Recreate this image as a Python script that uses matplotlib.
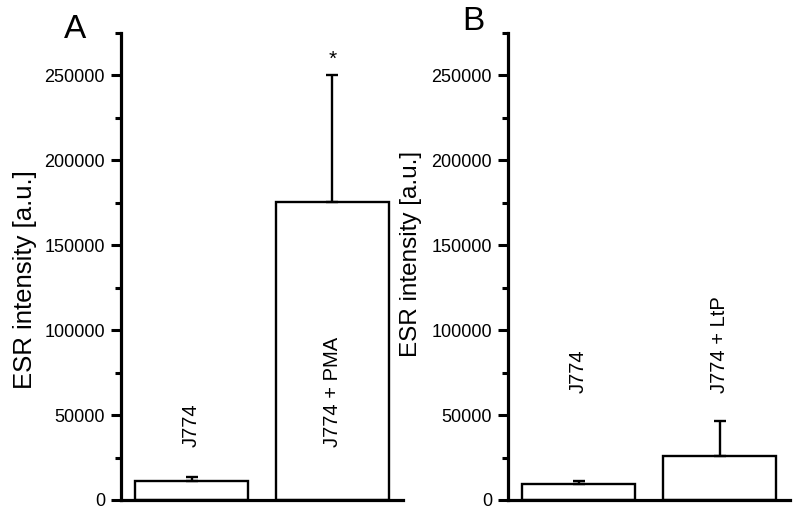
import matplotlib
matplotlib.use("Agg")
import matplotlib.pyplot as plt
from matplotlib.ticker import MultipleLocator

plt.rcParams['font.family'] = ['Liberation Sans', 'DejaVu Sans']

# Data
labels_a = ["J774", "J774 + PMA"]
means_a = [11200, 175700]
errs_a = [2200, 74500]

labels_b = ["J774", "J774 + LtP"]
means_b = [9250, 25900]
errs_b = [1950, 20700]

label_y_a = [31000, 31000]
label_y_b = [63000, 63000]
star_y = 256000

fig = plt.figure(figsize=(8.0, 5.15), dpi=100)
ax_a = fig.add_axes([121/800, 15/515, 282/800, 467/515])
ax_b = fig.add_axes([508/800, 15/515, 282/800, 467/515])


def style(ax):
    ax.set_xlim(0.5, 2.5)
    ax.set_ylim(0, 275000)
    ax.yaxis.set_major_locator(MultipleLocator(50000))
    ax.yaxis.set_minor_locator(MultipleLocator(25000))
    for s in ['top', 'right']:
        ax.spines[s].set_visible(False)
    for s in ['left', 'bottom']:
        ax.spines[s].set_linewidth(2.3)
    ax.set_xticks([])
    ax.tick_params(axis='y', which='major', length=7.5, width=2.2,
                   labelsize=13, pad=4)
    ax.tick_params(axis='y', which='minor', length=4, width=2.2)
    ax.set_facecolor('none')


def draw(ax, labels, means, errs, label_y):
    x = [1, 2]
    ax.bar(x, means, width=0.8, color='white', edgecolor='black',
           linewidth=1.7, zorder=2)
    ax.errorbar(x, means, yerr=[[0] * len(errs), errs], fmt='none',
                ecolor='black', elinewidth=1.7, capsize=4.5, capthick=1.7,
                zorder=3)
    for xi, lab, ly in zip(x, labels, label_y):
        ax.text(xi, ly, lab, rotation=90, ha='center', va='bottom',
                fontsize=14.5)


style(ax_a)
style(ax_b)
draw(ax_a, labels_a, means_a, errs_a, label_y_a)
draw(ax_b, labels_b, means_b, errs_b, label_y_b)

ax_a.text(2, star_y, "*", ha='center', va='baseline', fontsize=15)

ax_a.set_ylabel("ESR intensity [a.u.]", fontsize=18.5)
ax_a.yaxis.set_label_coords((37 - 121) / 282, (500 - 280) / 467)
ax_b.set_ylabel("ESR intensity [a.u.]", fontsize=17.5)
ax_b.yaxis.set_label_coords((422 - 508) / 282, (500 - 254) / 467)

fig.text(75 / 800, 1 - 30 / 515, "A", fontsize=24, ha='center', va='center')
fig.text(473 / 800, 1 - 21 / 515, "B", fontsize=24, ha='center', va='center')

fig.savefig("out.png", dpi=100)
